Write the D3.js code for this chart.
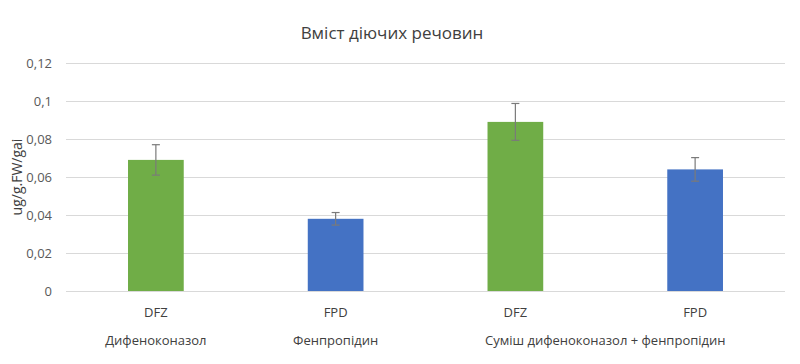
<!DOCTYPE html>
<html>
<head>
<meta charset="utf-8">
<script src="https://cdn.jsdelivr.net/npm/d3@7"></script>
<style>
  body { margin: 0; background: #fff; }
  text { font-family: "Open Sans", "Noto Sans", sans-serif; fill: #404040; }
</style>
</head>
<body>
<script>
// data
const compounds = ["DFZ", "FPD", "DFZ", "FPD"];
const groupOf = [0, 1, 2, 2];
const groups = ["Дифеноконазол", "Фенпропідин", "Суміш дифеноконазол + фенпропідин"];
const values = [0.069, 0.038, 0.089, 0.064];
const errors = [0.008, 0.0033, 0.0097, 0.0062];
const yTicks = [0, 0.02, 0.04, 0.06, 0.08, 0.1, 0.12];

const W = 800, H = 364;
const plotL = 66, plotR = 785, plotT = 63, plotB = 291;

var svg = d3.select("body").append("svg")
    .attr("width", W)
    .attr("height", H);

const x = d3.scaleBand()
    .domain(d3.range(compounds.length))
    .range([plotL, plotR])
    .padding(0);
const y = d3.scaleLinear()
    .domain([0, 0.12])
    .range([plotB, plotT]);
const colour = d3.scaleOrdinal()
    .domain(["DFZ", "FPD"])
    .range(["#70ad47", "#4472c4"]);

const fmt = d => String(d).replace(".", ",");
const barW = x.bandwidth() * 0.31;

// grid
svg.selectAll(".grid")
    .data(yTicks)
    .enter()
    .append("line")
    .attr("x1", plotL).attr("x2", plotR)
    .attr("y1", d => Math.round(y(d)) + 0.5)
    .attr("y2", d => Math.round(y(d)) + 0.5)
    .attr("stroke", "#d9d9d9")
    .attr("stroke-width", 1);

svg.selectAll(".ytick")
    .data(yTicks)
    .enter()
    .append("text")
    .attr("x", 52)
    .attr("y", d => y(d))
    .attr("dy", "0.35em")
    .attr("text-anchor", "end")
    .style("font-size", "13px")
    .style("fill", "#595959")
    .text(fmt);

// bars
svg.selectAll(".bar")
    .data(values)
    .enter()
    .append("rect")
    .attr("x", (d, i) => x(i) + x.bandwidth() / 2 - barW / 2)
    .attr("width", barW)
    .attr("y", d => y(d))
    .attr("height", d => y(0) - y(d))
    .attr("fill", (d, i) => colour(compounds[i]));

// error bars
var err = svg.selectAll(".err")
    .data(values)
    .enter()
    .append("g")
    .attr("stroke", "#7a7a7a")
    .attr("stroke-width", 1.2);
err.append("line")
    .attr("x1", (d, i) => x(i) + x.bandwidth() / 2)
    .attr("x2", (d, i) => x(i) + x.bandwidth() / 2)
    .attr("y1", (d, i) => y(d + errors[i]))
    .attr("y2", (d, i) => y(d - errors[i]));
err.append("line")
    .attr("x1", (d, i) => x(i) + x.bandwidth() / 2 - 4)
    .attr("x2", (d, i) => x(i) + x.bandwidth() / 2 + 4)
    .attr("y1", (d, i) => y(d + errors[i]))
    .attr("y2", (d, i) => y(d + errors[i]));
err.append("line")
    .attr("x1", (d, i) => x(i) + x.bandwidth() / 2 - 4)
    .attr("x2", (d, i) => x(i) + x.bandwidth() / 2 + 4)
    .attr("y1", (d, i) => y(d - errors[i]))
    .attr("y2", (d, i) => y(d - errors[i]));

// category labels
svg.selectAll(".cat")
    .data(compounds)
    .enter()
    .append("text")
    .attr("x", (d, i) => x(i) + x.bandwidth() / 2)
    .attr("y", 312)
    .attr("dy", "0.35em")
    .attr("text-anchor", "middle")
    .style("font-size", "13px")
    .style("fill", "#404040")
    .text(d => d);

// group labels, centred under their bars
svg.selectAll(".grp")
    .data(groups)
    .enter()
    .append("text")
    .attr("x", (d, g) => {
        const idx = d3.range(compounds.length).filter(i => groupOf[i] === g);
        return d3.mean(idx, i => x(i) + x.bandwidth() / 2);
    })
    .attr("y", 340)
    .attr("dy", "0.35em")
    .attr("text-anchor", "middle")
    .style("font-size", "13px")
    .style("fill", "#404040")
    .text(d => d);

// axis title
svg.append("text")
    .attr("transform", "translate(17," + (plotT + plotB) / 2 + ") rotate(-90)")
    .attr("dy", "0.35em")
    .attr("text-anchor", "middle")
    .style("font-size", "14px")
    .style("fill", "#404040")
    .text("ug/g.FW/gai");

svg.append("text")
    .attr("x", 392)
    .attr("y", 33)
    .attr("dy", "0.35em")
    .attr("text-anchor", "middle")
    .style("font-size", "17px")
    .style("fill", "#404040")
    .text("Вміст діючих речовин");
</script>
</body>
</html>
